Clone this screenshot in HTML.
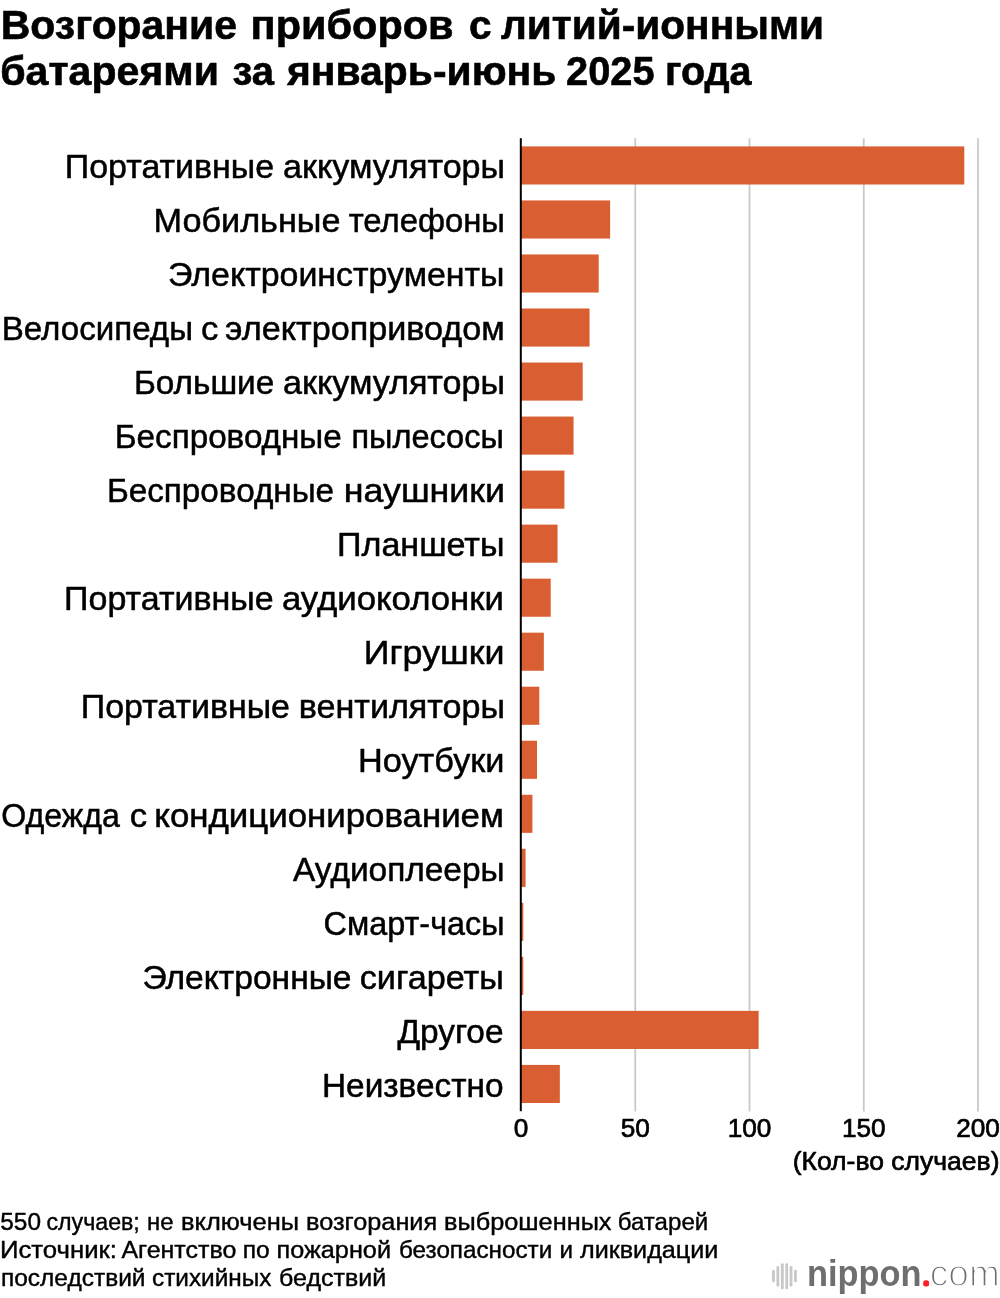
<!DOCTYPE html>
<html lang="ru">
<head>
<meta charset="utf-8">
<title>Возгорание приборов с литий-ионными батареями</title>
<style>
html,body{margin:0;padding:0;background:#fff;}
body{width:1000px;height:1298px;overflow:hidden;position:relative;}
svg{display:block;position:absolute;left:0;top:0;}
text{font-family:'Liberation Sans', sans-serif;}
text{fill:#000;stroke:#000;stroke-width:0.5px;stroke-linejoin:round;}
.t{font-size:41px;font-weight:700;stroke-width:0.6px;}
.l{font-size:32.7px;}
.f{font-size:23.5px;stroke-width:0.4px;}
.a{font-size:26.2px;stroke-width:0.7px;}
.ax{font-size:26.3px;stroke-width:0.7px;}
.lg{fill:#6e6e6e;stroke:none;font-size:37.8px;font-weight:700;}
.dot{fill:#ff1e27;stroke:#ff1e27;stroke-width:5px;font-size:10px;}
.com{fill:#6e6e6e;stroke:#fff;stroke-width:1.6px;font-size:37.8px;}
</style>
</head>
<body>
<svg width="1000" height="1298" viewBox="0 0 1000 1298">
<rect width="1000" height="1298" fill="#fff"/>
<g fill="#c9c9c9">
<rect x="634.35" y="138.2" width="1.8" height="973.3"/>
<rect x="748.60" y="138.2" width="1.8" height="973.3"/>
<rect x="862.85" y="138.2" width="1.8" height="973.3"/>
<rect x="977.10" y="138.2" width="1.8" height="973.3"/>
</g>
<g fill="#d95f32">
<rect x="521" y="146.40" width="443.29" height="38.1"/>
<rect x="521" y="200.43" width="89.12" height="38.1"/>
<rect x="521" y="254.46" width="77.69" height="38.1"/>
<rect x="521" y="308.49" width="68.55" height="38.1"/>
<rect x="521" y="362.52" width="61.70" height="38.1"/>
<rect x="521" y="416.55" width="52.56" height="38.1"/>
<rect x="521" y="470.58" width="43.42" height="38.1"/>
<rect x="521" y="524.61" width="36.56" height="38.1"/>
<rect x="521" y="578.64" width="29.71" height="38.1"/>
<rect x="521" y="632.67" width="22.85" height="38.1"/>
<rect x="521" y="686.70" width="18.28" height="38.1"/>
<rect x="521" y="740.73" width="16.00" height="38.1"/>
<rect x="521" y="794.76" width="11.43" height="38.1"/>
<rect x="521" y="848.79" width="4.57" height="38.1"/>
<rect x="521" y="902.82" width="2.29" height="38.1"/>
<rect x="521" y="956.85" width="2.29" height="38.1"/>
<rect x="521" y="1010.88" width="237.64" height="38.1"/>
<rect x="521" y="1064.91" width="38.84" height="38.1"/>
</g>
<rect x="519.8" y="138.2" width="2" height="973" fill="#000"/>
<text class="t" y="39.2"><tspan x="0.8" textLength="236.2" lengthAdjust="spacingAndGlyphs">Возгорание</tspan> <tspan x="250.6" textLength="203" lengthAdjust="spacingAndGlyphs">приборов</tspan> <tspan x="469" textLength="22.6" lengthAdjust="spacingAndGlyphs">с</tspan> <tspan x="501" textLength="323" lengthAdjust="spacingAndGlyphs">литий-ионными</tspan></text>
<text class="t" y="84.9"><tspan x="0.2" textLength="218.8" lengthAdjust="spacingAndGlyphs">батареями</tspan> <tspan x="232.4" textLength="41.6" lengthAdjust="spacingAndGlyphs">за</tspan> <tspan x="287" textLength="269.4" lengthAdjust="spacingAndGlyphs">январь-июнь</tspan> <tspan x="566" textLength="88.6" lengthAdjust="spacingAndGlyphs">2025</tspan> <tspan x="665" textLength="86.6" lengthAdjust="spacingAndGlyphs">года</tspan></text>
<text class="l" y="177.9"><tspan x="64.8" textLength="209.3" lengthAdjust="spacingAndGlyphs">Портативные</tspan> <tspan x="283.1" textLength="222" lengthAdjust="spacingAndGlyphs">аккумуляторы</tspan></text>
<text class="l" y="231.95"><tspan x="153.5" textLength="187" lengthAdjust="spacingAndGlyphs">Мобильные</tspan> <tspan x="348.7" textLength="156.3" lengthAdjust="spacingAndGlyphs">телефоны</tspan></text>
<text class="l" x="504.5" y="286" text-anchor="end" textLength="336.5" lengthAdjust="spacingAndGlyphs">Электроинструменты</text>
<text class="l" y="340.05"><tspan x="1.7" textLength="191.3" lengthAdjust="spacingAndGlyphs">Велосипеды</tspan> <tspan x="200.9" textLength="17.4" lengthAdjust="spacingAndGlyphs">с</tspan> <tspan x="225.1" textLength="279.6" lengthAdjust="spacingAndGlyphs">электроприводом</tspan></text>
<text class="l" y="394.1"><tspan x="133.9" textLength="140.4" lengthAdjust="spacingAndGlyphs">Большие</tspan> <tspan x="283.1" textLength="221.9" lengthAdjust="spacingAndGlyphs">аккумуляторы</tspan></text>
<text class="l" y="448.15"><tspan x="114.8" textLength="226.9" lengthAdjust="spacingAndGlyphs">Беспроводные</tspan> <tspan x="351.4" textLength="152.5" lengthAdjust="spacingAndGlyphs">пылесосы</tspan></text>
<text class="l" y="502.2"><tspan x="106.9" textLength="227.2" lengthAdjust="spacingAndGlyphs">Беспроводные</tspan> <tspan x="343.8" textLength="161.2" lengthAdjust="spacingAndGlyphs">наушники</tspan></text>
<text class="l" x="504.5" y="556.25" text-anchor="end" textLength="167.5" lengthAdjust="spacingAndGlyphs">Планшеты</text>
<text class="l" y="610.3"><tspan x="64.1" textLength="209.6" lengthAdjust="spacingAndGlyphs">Портативные</tspan> <tspan x="281.9" textLength="222" lengthAdjust="spacingAndGlyphs">аудиоколонки</tspan></text>
<text class="l" x="504.5" y="664.35" text-anchor="end" textLength="140.7" lengthAdjust="spacingAndGlyphs">Игрушки</text>
<text class="l" y="718.4"><tspan x="80.8" textLength="209.2" lengthAdjust="spacingAndGlyphs">Портативные</tspan> <tspan x="298.8" textLength="206.2" lengthAdjust="spacingAndGlyphs">вентиляторы</tspan></text>
<text class="l" x="504.5" y="772.45" text-anchor="end" textLength="146.5" lengthAdjust="spacingAndGlyphs">Ноутбуки</text>
<text class="l" y="826.5"><tspan x="1.2" textLength="118.6" lengthAdjust="spacingAndGlyphs">Одежда</tspan> <tspan x="129.7" textLength="17.4" lengthAdjust="spacingAndGlyphs">с</tspan> <tspan x="154.3" textLength="349.6" lengthAdjust="spacingAndGlyphs">кондиционированием</tspan></text>
<text class="l" x="504.5" y="880.55" text-anchor="end" textLength="211.6" lengthAdjust="spacingAndGlyphs">Аудиоплееры</text>
<text class="l" x="504.5" y="934.6" text-anchor="end" textLength="180.9" lengthAdjust="spacingAndGlyphs">Смарт-часы</text>
<text class="l" y="988.65"><tspan x="142.5" textLength="209" lengthAdjust="spacingAndGlyphs">Электронные</tspan> <tspan x="359.7" textLength="144.2" lengthAdjust="spacingAndGlyphs">сигареты</tspan></text>
<text class="l" x="503.5" y="1042.7" text-anchor="end" textLength="106.1" lengthAdjust="spacingAndGlyphs">Другое</text>
<text class="l" x="503.5" y="1096.75" text-anchor="end" textLength="181.5" lengthAdjust="spacingAndGlyphs">Неизвестно</text>
<text class="a" x="521" y="1137" text-anchor="middle">0</text>
<text class="a" x="635.25" y="1137" text-anchor="middle">50</text>
<text class="a" x="749.5" y="1137" text-anchor="middle">100</text>
<text class="a" x="863.75" y="1137" text-anchor="middle">150</text>
<text class="a" x="978" y="1137" text-anchor="middle">200</text>
<text class="ax" x="999.5" y="1169.6" text-anchor="end" textLength="206.8" lengthAdjust="spacingAndGlyphs">(Кол-во случаев)</text>
<text class="f" y="1229.9"><tspan x="0.3" textLength="40.7" lengthAdjust="spacingAndGlyphs">550</tspan> <tspan x="46.5" textLength="93.3" lengthAdjust="spacingAndGlyphs">случаев;</tspan> <tspan x="147" textLength="26.5" lengthAdjust="spacingAndGlyphs">не</tspan> <tspan x="181" textLength="118" lengthAdjust="spacingAndGlyphs">включены</tspan> <tspan x="306" textLength="131.2" lengthAdjust="spacingAndGlyphs">возгорания</tspan> <tspan x="444" textLength="167.5" lengthAdjust="spacingAndGlyphs">выброшенных</tspan> <tspan x="617.8" textLength="90.4" lengthAdjust="spacingAndGlyphs">батарей</tspan></text>
<text class="f" y="1257.8"><tspan x="0" textLength="117" lengthAdjust="spacingAndGlyphs">Источник:</tspan> <tspan x="121.4" textLength="115" lengthAdjust="spacingAndGlyphs">Агентство</tspan> <tspan x="242.8" textLength="27" lengthAdjust="spacingAndGlyphs">по</tspan> <tspan x="276.5" textLength="114.5" lengthAdjust="spacingAndGlyphs">пожарной</tspan> <tspan x="399" textLength="153.2" lengthAdjust="spacingAndGlyphs">безопасности</tspan> <tspan x="559.5" textLength="13.5" lengthAdjust="spacingAndGlyphs">и</tspan> <tspan x="580" textLength="138.4" lengthAdjust="spacingAndGlyphs">ликвидации</tspan></text>
<text class="f" y="1285.7"><tspan x="1" textLength="144.5" lengthAdjust="spacingAndGlyphs">последствий</tspan> <tspan x="152" textLength="119.4" lengthAdjust="spacingAndGlyphs">стихийных</tspan> <tspan x="279" textLength="107.2" lengthAdjust="spacingAndGlyphs">бедствий</tspan></text>
<g fill="#c8c8c8">
<rect x="772.05" y="1269.8" width="2.8" height="12.6" rx="1.4"/>
<rect x="776.45" y="1266" width="2.8" height="20.6" rx="1.4"/>
<rect x="780.95" y="1263.2" width="2.8" height="26.2" rx="1.4"/>
<rect x="785.35" y="1263.2" width="2.8" height="26.2" rx="1.4"/>
<rect x="789.65" y="1266" width="2.8" height="20.6" rx="1.4"/>
<rect x="794.05" y="1269.8" width="2.8" height="12.6" rx="1.4"/>
</g>
<text class="lg" x="807" y="1285.8" textLength="114.5" lengthAdjust="spacingAndGlyphs">nippon</text>
<text class="dot" x="924.8" y="1283.8">.</text>
<text class="com" x="929.8" y="1285.8" textLength="70" lengthAdjust="spacingAndGlyphs">com</text>
</svg>
</body>
</html>
